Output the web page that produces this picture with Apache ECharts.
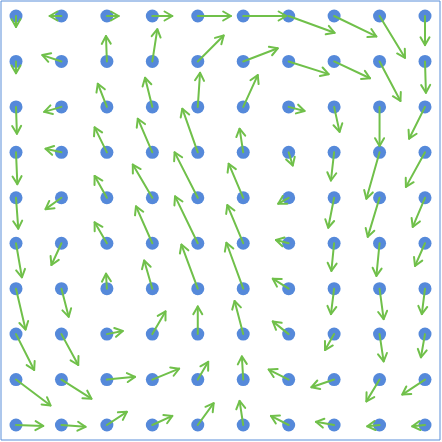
<!DOCTYPE html>
<html>
<head>
<meta charset="utf-8">
<script src="https://cdn.jsdelivr.net/npm/echarts@6/dist/echarts.min.js"></script>
<style>
  html, body { margin: 0; padding: 0; background: #fff; }
  #main { width: 442px; height: 442px; }
</style>
</head>
<body>
<div id="main"></div>
<script>
// grid positions
var gridX = [0, 1, 2, 3, 4, 5, 6, 7, 8, 9];
var gridY = [9, 8, 7, 6, 5, 4, 3, 2, 1, 0]; // top row first

// vector x components, one row per gridY entry
var vecU = [
  [0, -0.26, 0.26, 0.44, 0.73, 0.95, 1.01, 0.93, 0.56, 0],
  [0, -0.42, -0.02, 0.11, 0.57, 0.76, 0.88, 0.79, 0.46, 0.02],
  [0.02, -0.38, -0.2, -0.16, 0.05, 0.32, 0.35, 0.12, 0, -0.35],
  [0.03, -0.35, -0.27, -0.32, -0.34, -0.08, 0.09, -0.07, -0.29, -0.42],
  [0.05, -0.35, -0.27, -0.43, -0.51, -0.32, -0.23, -0.13, -0.26, -0.27],
  [0.13, -0.22, -0.27, -0.36, -0.5, -0.35, -0.28, -0.06, -0.07, -0.22],
  [0.21, 0.16, -0.02, -0.18, -0.36, -0.37, -0.35, -0.07, 0.09, -0.07],
  [0.4, 0.37, 0.35, 0.29, 0, -0.19, -0.35, -0.2, 0.09, -0.09],
  [0.76, 0.66, 0.62, 0.59, 0.23, -0.03, -0.44, -0.5, -0.29, -0.5],
  [0.6, 0.53, 0.44, 0.44, 0.35, -0.08, -0.39, -0.4, -0.27, -0.28]
];
// vector y components
var vecV = [
  [-0.24, 0, 0, 0, 0, 0, -0.37, -0.45, -0.92, -0.64],
  [-0.26, 0.14, 0.56, 0.71, 0.57, 0.29, -0.28, -0.37, -0.87, -0.69],
  [-0.59, -0.11, 0.51, 0.64, 0.75, 0.7, -0.09, -0.55, -0.86, -0.7],
  [-0.7, 0.08, 0.55, 0.74, 0.96, 0.52, -0.29, -0.62, -1.02, -0.76],
  [-0.68, -0.25, 0.48, 0.73, 1.0, 0.75, -0.13, -0.66, -0.86, -0.64],
  [-0.75, -0.48, 0.46, 0.81, 1.03, 0.84, 0.07, -0.61, -0.72, -0.5],
  [-0.9, -0.62, 0.33, 0.62, 0.97, 1.01, 0.22, -0.56, -0.67, -0.56],
  [-0.79, -0.68, 0.07, 0.5, 0.61, 0.73, 0.28, -0.35, -0.6, -0.51],
  [-0.57, -0.42, 0.06, 0.24, 0.39, 0.51, 0.22, -0.17, -0.48, -0.33],
  [-0.02, -0.04, 0.29, 0.2, 0.48, 0.53, 0.2, 0.07, -0.03, -0.03]
];

var points = [];
var arrows = [];
gridY.forEach(function (y, r) {
  gridX.forEach(function (x, c) {
    points.push([x, y]);
    arrows.push([x, y, vecU[r][c], vecV[r][c]]);
  });
});

function renderArrow(params, api) {
  var x = api.value(0), y = api.value(1);
  var p0 = api.coord([x, y]);
  var p1 = api.coord([x + api.value(2), y + api.value(3)]);
  var ang = Math.atan2(p1[1] - p0[1], p1[0] - p0[0]);
  var head = 9, spread = Math.PI / 6;
  var a1 = [p1[0] - head * Math.cos(ang - spread), p1[1] - head * Math.sin(ang - spread)];
  var a2 = [p1[0] - head * Math.cos(ang + spread), p1[1] - head * Math.sin(ang + spread)];
  var style = { stroke: '#70c04a', lineWidth: 2, fill: null, lineCap: 'round', lineJoin: 'round' };
  return {
    type: 'group',
    children: [
      { type: 'line', shape: { x1: p0[0], y1: p0[1], x2: p1[0], y2: p1[1] }, style: style },
      { type: 'polyline', shape: { points: [a1, p1, a2] }, style: style }
    ]
  };
}

var myChart = echarts.init(document.getElementById('main'));
myChart.setOption({
  animation: false,
  grid: { left: 1, right: 2, top: 1, bottom: 2, show: true, borderColor: '#5b8fd9', borderWidth: 1 },
  xAxis: { type: 'value', min: -0.33, max: 9.33, show: false },
  yAxis: { type: 'value', min: -0.33, max: 9.33, show: false },
  series: [
    {
      type: 'scatter',
      data: points,
      symbolSize: 13,
      itemStyle: { color: '#5589da', opacity: 1 },
      z: 2
    },
    {
      type: 'custom',
      data: arrows,
      renderItem: renderArrow,
      encode: { x: 0, y: 1 },
      z: 3
    }
  ]
});
</script>
</body>
</html>
